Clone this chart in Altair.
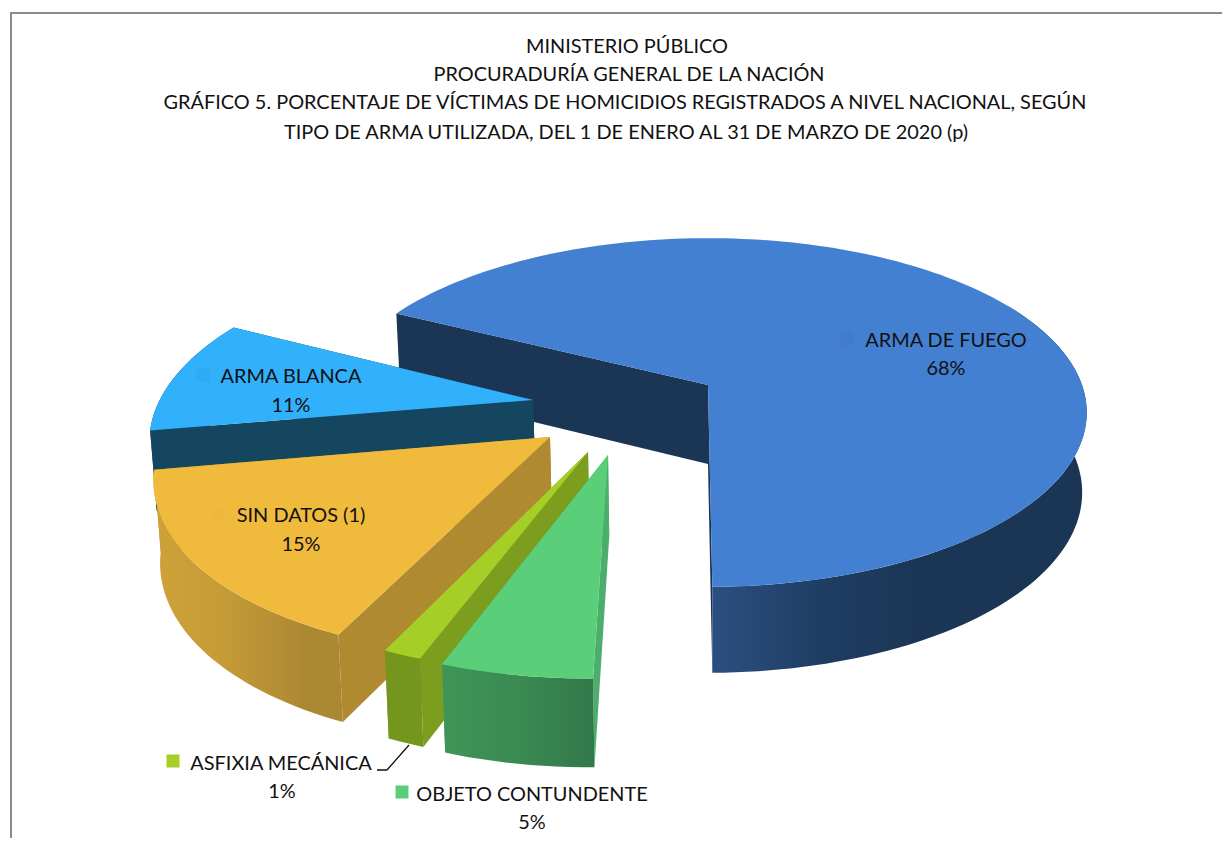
import math
import altair as alt

# ---- values
categories = ["ARMA DE FUEGO", "OBJETO CONTUNDENTE", "ASFIXIA MECÁNICA", "SIN DATOS (1)", "ARMA BLANCA"]
percent_labels = ["68%", "5%", "1%", "15%", "11%"]
# size of each slice as it appears in the picture, in percent of the full turn
shares = [67.4, 5.4, 1.4, 15.6, 10.2]
title_lines = [
    "MINISTERIO PÚBLICO",
    "PROCURADURÍA GENERAL DE LA NACIÓN",
    "GRÁFICO 5. PORCENTAJE DE VÍCTIMAS DE HOMICIDIOS REGISTRADOS A NIVEL NACIONAL,  SEGÚN",
    "TIPO DE ARMA UTILIZADA, DEL 1 DE ENERO AL 31 DE MARZO DE 2020 (p)",
]

# ---- styling
top_colors = ["#4480d1", "#5bce7a", "#a5ce27", "#f0bb3c", "#31b0fb"]
wall_colors = ["#1b3655", "#4bae6c", "#7d9d1f", "#b08a30", "#14465f"]
rim_stops = [
    [("#2b4f80", 0.0), ("#1f3d63", 0.3), ("#1b3655", 0.55), ("#1b3655", 1.0)],
    [("#3f9558", 0.0), ("#3a8a52", 0.5), ("#33784a", 1.0)],
    [("#74961c", 0.0), ("#74961c", 1.0)],
    [("#cfa138", 0.0), ("#c69c37", 0.35), ("#ad8833", 0.8), ("#ad8833", 1.0)],
    [("#14465f", 0.0), ("#14465f", 1.0)],
]
key_colors = ["#427bcc", "#5bce7a", "#a5ce27", "#efb83b", "#2eabf4"]
FONT = "Lato"

# ---- 3-D view of the exploded pie
VX, VY = 708.0, 385.0
BX, AZ, K = 374.0, 170.0, 0.1577
HEIGHT, K_H, SHRINK = 79.0, 0.081, 0.012
START = 296.8
explode = [(0.0, 0.0), (-0.251, -0.387), (-0.302, -0.371), (-0.403, -0.292), (-0.461, -0.087)]
radius = [1.0, 0.97, 0.965, 0.985, 0.985]
rim_from = [60.0, None, None, None, None]
draw_order = [0, 4, 3, 2, 1]


def top(x, z):
    d = 1 + K * z
    return [VX + BX * x / d, VY - AZ * z / d]


def bottom(x, z):
    X, Y = top(x, z)
    return [VX + (X - VX) * (1 - SHRINK), Y + HEIGHT / (1 + K_H * z)]


def disc(i, theta):
    a = math.radians(theta)
    return explode[i][0] + radius[i] * math.sin(a), explode[i][1] + radius[i] * math.cos(a)


def arc(i, t0, t1):
    n = max(2, int(abs(t1 - t0) / 1.5))
    return [disc(i, t0 + (t1 - t0) * j / n) for j in range(n + 1)]


def poly(points):
    pts = list(points) + [points[0]]
    return {"type": "Feature", "properties": {},
            "geometry": {"type": "Polygon", "coordinates": [pts]}}


PROJ = dict(type="identity", scale=1, translate=[-8, -8])


def shape(feature, **mark):
    data = alt.Data(values=[feature])
    return alt.Chart(data).mark_geoshape(strokeOpacity=0, **mark).project(**PROJ)


spans = []
angle = START
for share in shares:
    spans.append((angle, angle + share * 3.6))
    angle += share * 3.6

layers = []
for i in draw_order:
    t0, t1 = spans[i]
    apex = explode[i]
    # radial walls
    for t in (t1, t0):
        e = disc(i, t)
        wall = [top(*apex), top(*e), bottom(*e), bottom(*apex)]
        layers.append(shape(poly(wall), fill=wall_colors[i]))
    # outer rim
    r0 = t0 if rim_from[i] is None else rim_from[i] + 360
    rim = arc(i, r0, t1)
    strip = [top(*p) for p in rim] + [bottom(*p) for p in reversed(rim)]
    grad = alt.LinearGradient(
        gradient="linear", x1=0, x2=1, y1=0, y2=0,
        stops=[alt.GradientStop(color=c, offset=o) for c, o in rim_stops[i]],
    )
    layers.append(shape(poly(strip), fill=grad))
    # top face
    face = [top(*apex)] + [top(*p) for p in arc(i, t0, t1)]
    layers.append(shape(poly(face), fill=top_colors[i]))

# frame and leader line
frame = {"type": "Feature", "properties": {},
         "geometry": {"type": "LineString", "coordinates": [[1240, 13], [11, 13], [11, 860]]}}
leader = {"type": "Feature", "properties": {},
          "geometry": {"type": "LineString", "coordinates": [[377, 770], [387, 770], [409, 745]]}}
layers.append(alt.Chart(alt.Data(values=[frame])).mark_geoshape(
    filled=False, stroke="#8c8c8c", strokeWidth=2).project(**PROJ))
layers.append(alt.Chart(alt.Data(values=[leader])).mark_geoshape(
    filled=False, stroke="#111111", strokeWidth=1.3).project(**PROJ))

# legend keys and text
key_x = [847, 402, 173, 218, 203]
key_y = [339, 792, 761, 514, 375]
name_x = [946, 532, 281, 301, 291]
name_y = [341, 795, 764, 516, 377]
pct_x = [946, 532, 282, 301, 291]
pct_y = [369, 823, 792, 545, 406]
title_x = [627, 629, 625, 626]
title_y = [47, 75, 103, 133]

key_rows = [{"x": x, "y": y, "c": c} for x, y, c in zip(key_x, key_y, key_colors)]
layers.append(alt.Chart(alt.Data(values=key_rows)).mark_point(
    shape="square", filled=True, size=169, opacity=1).encode(
    longitude="x:Q", latitude="y:Q",
    color=alt.Color("c:N", scale=None, legend=None)).project(**PROJ))

text_rows = (
    [{"x": x, "y": y, "t": t} for x, y, t in zip(title_x, title_y, title_lines)]
    + [{"x": x, "y": y, "t": t} for x, y, t in zip(name_x, name_y, categories)]
    + [{"x": x, "y": y, "t": t} for x, y, t in zip(pct_x, pct_y, percent_labels)]
)
layers.append(alt.Chart(alt.Data(values=text_rows)).mark_text(
    font=FONT, fontSize=19.9, color="#111111", align="center", baseline="middle").encode(
    longitude="x:Q", latitude="y:Q", text="t:N").project(**PROJ))

chart = alt.layer(*layers).properties(
    width=1214, height=830, padding=0, background="white",
    autosize=alt.AutoSizeParams(type="none"),
).configure_view(stroke=None)

chart.save("out.html", embed_options={"renderer": "svg", "actions": False})
